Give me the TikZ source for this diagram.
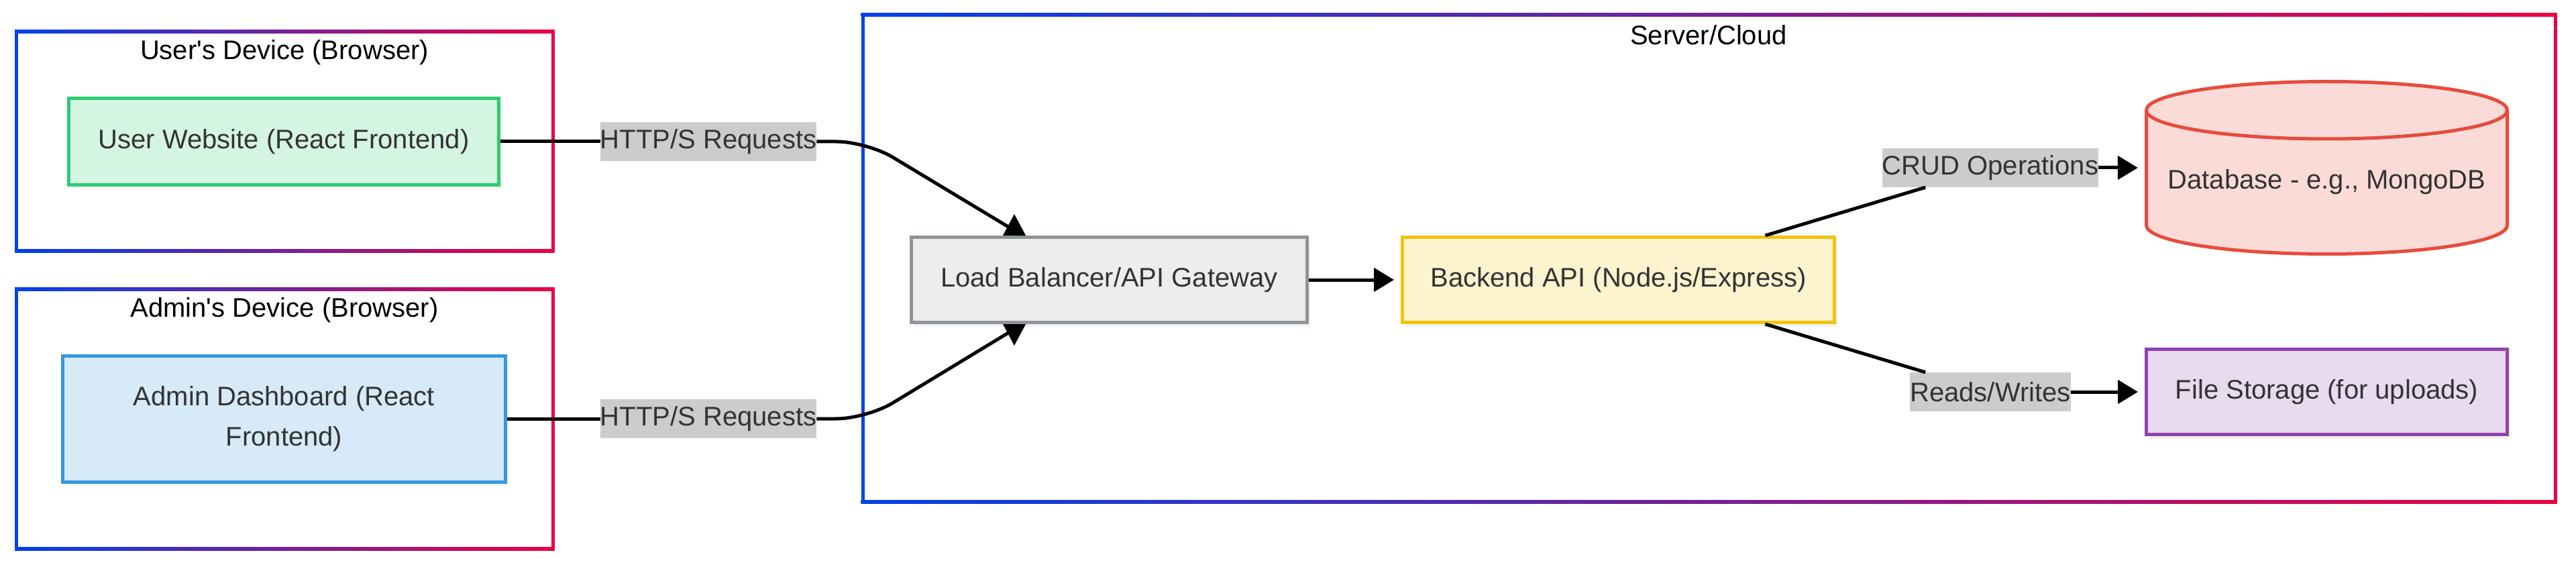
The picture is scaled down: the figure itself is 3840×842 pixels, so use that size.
\documentclass[tikz,border=0pt]{standalone}
\usepackage{fontspec}
\setmainfont{Liberation Sans}
\usetikzlibrary{arrows.meta}
\usetikzlibrary{shadows}

\definecolor{gstart}{HTML}{0042EB}
\definecolor{gstop}{HTML}{EB0042}
\definecolor{txt}{HTML}{333333}
\definecolor{lblbg}{HTML}{CCCCCC}
\definecolor{webline}{HTML}{2ECC71}
\definecolor{webfill}{HTML}{D5F5E3}
\definecolor{admline}{HTML}{3498DB}
\definecolor{admfill}{HTML}{D6EAF8}
\definecolor{lbline}{HTML}{909497}
\definecolor{lbfill}{HTML}{EBEDEF}
\definecolor{apiline}{HTML}{F1C40F}
\definecolor{apifill}{HTML}{FCF3CF}
\definecolor{dbline}{HTML}{E74C3C}
\definecolor{dbfill}{HTML}{FADBD8}
\definecolor{fsline}{HTML}{8E44AD}
\definecolor{fsfill}{HTML}{E8DAEF}

\newcommand{\gradframe}[4]{%
  \shade[left color=gstart,right color=gstop] (#1-2.5,#2-2.5) rectangle (#3+2.5,#2+2.5);
  \shade[left color=gstart,right color=gstop] (#1-2.5,#4-2.5) rectangle (#3+2.5,#4+2.5);
  \fill[gstart] (#1-2.5,#2) rectangle (#1+2.5,#4);
  \fill[gstop] (#3-2.5,#2) rectangle (#3+2.5,#4);
}

\begin{document}
\begin{tikzpicture}[x=1pt,y=-1pt,
  box/.style={draw,line width=5pt,minimum height=127pt,inner sep=0pt,text=txt,
    font=\fontsize{40}{60}\selectfont,align=center,
    drop shadow={opacity=0.1,shadow xshift=4pt,shadow yshift=-6pt}},
  lbl/.style={fill=lblbg,text=txt,inner sep=0pt,minimum height=58pt,font=\fontsize{40}{48}\selectfont},
  title/.style={font=\fontsize{40}{48}\selectfont},
  edge/.style={line width=5pt},
  arr/.style={edge,-{Triangle[length=30pt,width=35pt]},shorten >=10pt}]
\useasboundingbox (0,0) rectangle (3840,842);
\gradframe{24.5}{47}{824}{374}
\gradframe{24.5}{431}{824}{818}
\gradframe{1286}{22.5}{3809}{747.5}
\node[title] (usertitle) at (424,78) {User\textquotesingle s Device (Browser)};
\node[title] (admintitle) at (424,462) {Admin\textquotesingle s Device (Browser)};
\node[title] (servertitle) at (2547,52) {Server/Cloud};

\node[box,draw=webline,fill=webfill,minimum width=641pt,minimum height=129pt] (web) at (423,211) {User Website (React Frontend)};
\node[box,draw=admline,fill=admfill,minimum width=660pt,minimum height=188pt] (dash) at (423.5,624) {Admin Dashboard (React\\Frontend)};
\node[box,draw=lbline,fill=lbfill,minimum width=590pt] (lb) at (1653.5,417) {Load Balancer/API Gateway};
\node[box,draw=apiline,fill=apifill,minimum width=644pt] (api) at (2412.5,417) {Backend API (Node.js/Express)};
\node[box,draw=fsline,fill=fsfill,minimum width=538pt] (files) at (3468.5,584) {File Storage (for uploads)};

\filldraw[draw=dbline,fill=dbfill,line width=5pt] (3199.5,164.25) -- (3199.5,335.75)
  arc[start angle=180,end angle=360,x radius=269pt,y radius=42.75pt] -- (3737.5,164.25)
  arc[start angle=0,end angle=180,x radius=269pt,y radius=42.75pt] -- cycle;
\draw[dbline,line width=5pt] (3199.5,164.25) arc[start angle=180,end angle=360,x radius=269pt,y radius=42.75pt];
\node[text=txt,font=\fontsize{40}{48}\selectfont,minimum width=543pt,minimum height=262pt,inner sep=0pt] (db) at (3468.5,250)
  {\raisebox{-21pt}[\height][\depth]{Database - e.g., MongoDB}};

\node[lbl,minimum width=320pt] (http1) at (1056,211) {HTTP/S Requests};
\node[lbl,minimum width=320pt] (http2) at (1056,624) {HTTP/S Requests};
\node[lbl,minimum width=320pt] (crud) at (2967,250) {CRUD Operations};
\node[lbl,minimum width=238pt] (rw) at (2967,584) {Reads/Writes};

\coordinate (lbtop) at ([xshift=-141.5pt]lb.north);
\coordinate (lbbot) at ([xshift=-141.5pt]lb.south);
\draw[edge] (web) -- (http1);
\draw[edge] (http1.east) [rounded corners=45pt] -- (1292,211) [sharp corners] -- ([shift={(-4pt,10pt)}]lbtop);
\fill ([xshift=-17pt]lbtop) -- ([xshift=17pt]lbtop) -- ([yshift=32pt]lbtop) -- cycle;
\draw[edge] (dash) -- (http2);
\draw[edge] (http2.east) [rounded corners=45pt] -- (1292,624) [sharp corners] -- ([shift={(-4pt,-10pt)}]lbbot);
\fill ([xshift=-17pt]lbbot) -- ([xshift=17pt]lbbot) -- ([yshift=-32pt]lbbot) -- cycle;
\draw[arr] (lb) -- (api);
\draw[edge] (api) -- (crud);
\draw[arr] (crud) -- (db);
\draw[edge] (api) -- (rw);
\draw[arr] (rw) -- (files);
\end{tikzpicture}
\end{document}
